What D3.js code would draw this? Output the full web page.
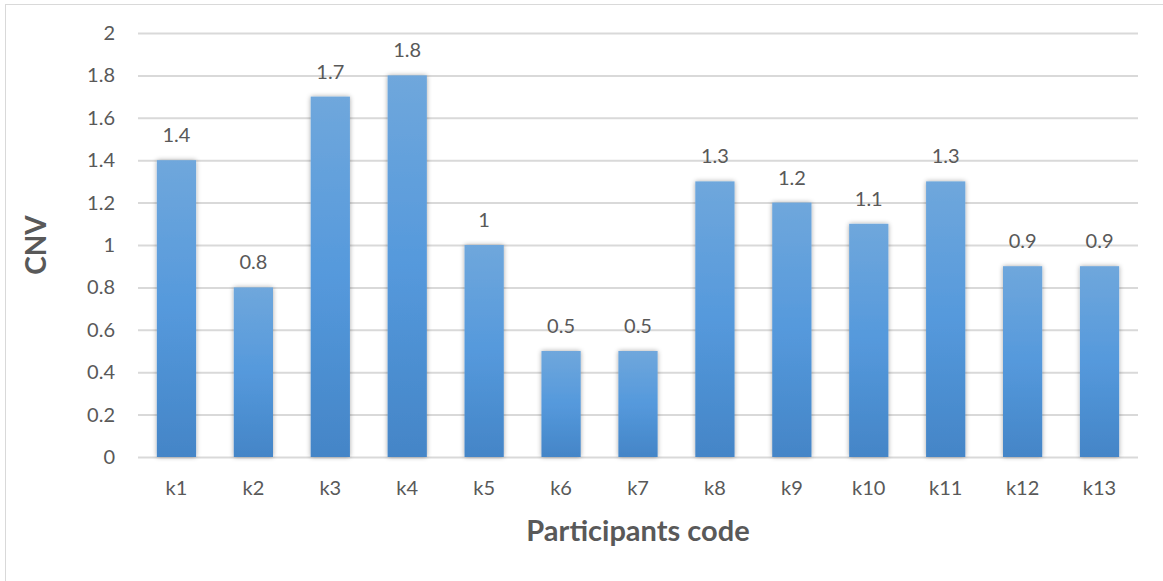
<!DOCTYPE html>
<html>
<head>
<meta charset="utf-8">
<script src="https://cdn.jsdelivr.net/npm/d3@7"></script>
<style>
  html, body { margin: 0; padding: 0; background: #fff; }
  svg { display: block; }
  text { font-family: Lato, "Open Sans", sans-serif; fill: #595959; }
</style>
</head>
<body>
<svg id="chart" width="1163" height="581"></svg>
<script>
const categories = ["k1","k2","k3","k4","k5","k6","k7","k8","k9","k10","k11","k12","k13"];
const cnvValues = [1.4, 0.8, 1.7, 1.8, 1, 0.5, 0.5, 1.3, 1.2, 1.1, 1.3, 0.9, 0.9];
const yTicks = [0, 0.2, 0.4, 0.6, 0.8, 1, 1.2, 1.4, 1.6, 1.8, 2];
const valueLabels = ["1.4","0.8","1.7","1.8","1","0.5","0.5","1.3","1.2","1.1","1.3","0.9","0.9"];

const svg = d3.select("#chart");
const W = 1163, H = 581;

// chart area frame
svg.append("rect")
  .attr("x", 5.5).attr("y", 4.5)
  .attr("width", W + 10).attr("height", H + 10)
  .attr("fill", "#fff").attr("stroke", "#d9d9d9").attr("stroke-width", 1);

const plot = { left: 138, right: 1138, top: 33, bottom: 457 };

const x = d3.scaleBand()
  .domain(categories)
  .range([plot.left, plot.right])
  .paddingInner(0.49)
  .paddingOuter(0.245);

const y = d3.scaleLinear().domain([0, 2]).range([plot.bottom, plot.top]);

const defs = svg.append("defs");
const grad = defs.append("linearGradient")
  .attr("id", "barFill").attr("x1", 0).attr("y1", 0).attr("x2", 0).attr("y2", 1);
grad.append("stop").attr("offset", "0%").attr("stop-color", "#6fa7dc");
grad.append("stop").attr("offset", "50%").attr("stop-color", "#5599dc");
grad.append("stop").attr("offset", "100%").attr("stop-color", "#4485c7");

const shadow = defs.append("filter")
  .attr("id", "barShadow").attr("x", "-30%").attr("y", "-10%")
  .attr("width", "160%").attr("height", "120%");
shadow.append("feGaussianBlur").attr("in", "SourceAlpha").attr("stdDeviation", 2.5).attr("result", "blur");
shadow.append("feOffset").attr("in", "blur").attr("dx", 0).attr("dy", 0).attr("result", "off");
shadow.append("feComponentTransfer").attr("in", "off").attr("result", "soft")
  .append("feFuncA").attr("type", "linear").attr("slope", 0.35);
const merge = shadow.append("feMerge");
merge.append("feMergeNode").attr("in", "soft");
merge.append("feMergeNode").attr("in", "SourceGraphic");

// gridlines and value axis
const yAxis = d3.axisLeft(y)
  .tickValues(yTicks)
  .tickSize(-(plot.right - plot.left))
  .tickPadding(23)
  .tickFormat(d => String(d));

const gy = svg.append("g")
  .attr("transform", `translate(${plot.left},0)`)
  .call(yAxis);
gy.select(".domain").remove();
gy.selectAll(".tick line").attr("stroke", "#d9d9d9").attr("stroke-width", 2);
gy.selectAll(".tick text")
  .attr("font-size", 20)
  .style("fill", "#595959");

// bars
svg.append("g").selectAll("rect")
  .data(cnvValues)
  .join("rect")
  .attr("x", (d, i) => x(categories[i]))
  .attr("y", d => y(d))
  .attr("width", x.bandwidth())
  .attr("height", d => y(0) - y(d))
  .attr("fill", "url(#barFill)")
  .attr("filter", "url(#barShadow)");

// value labels
svg.append("g").selectAll("text")
  .data(cnvValues)
  .join("text")
  .attr("x", (d, i) => x(categories[i]) + x.bandwidth() / 2)
  .attr("y", d => y(d) - 18)
  .attr("text-anchor", "middle")
  .attr("font-size", 20)
  .text((d, i) => valueLabels[i]);

// category axis
const xAxis = d3.axisBottom(x).tickSize(0).tickPadding(24);
const gx = svg.append("g")
  .attr("transform", `translate(0,${plot.bottom})`)
  .call(xAxis);
gx.select(".domain").remove();
gx.selectAll(".tick text").attr("font-size", 20).style("fill", "#595959");

// axis titles
svg.append("text")
  .attr("x", (plot.left + plot.right) / 2)
  .attr("y", 541)
  .attr("text-anchor", "middle")
  .attr("font-size", 29)
  .attr("font-weight", "bold")
  .text("Participants code");

svg.append("text")
  .attr("transform", `translate(46,${(plot.top + plot.bottom) / 2}) rotate(-90)`)
  .attr("text-anchor", "middle")
  .attr("font-size", 28)
  .attr("font-weight", "bold")
  .text("CNV");
</script>
</body>
</html>
